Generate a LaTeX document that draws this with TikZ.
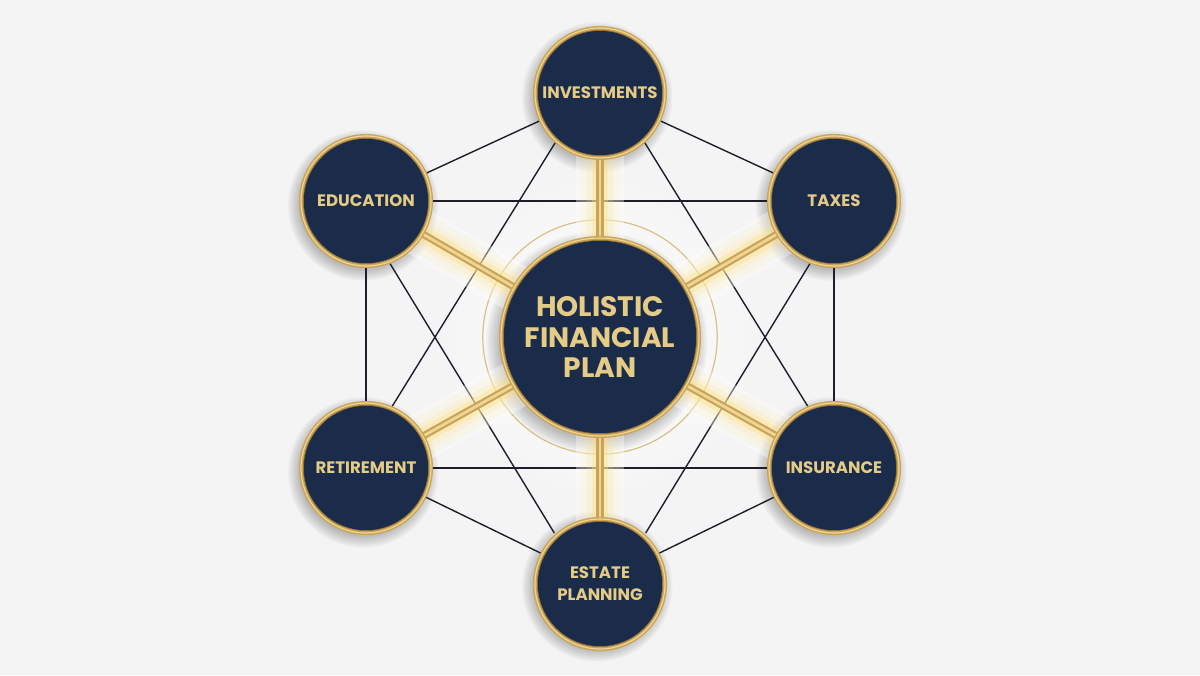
\documentclass[tikz,border=0pt]{standalone}
\usepackage{fontspec}
\newfontfamily\pop{Poppins}
\usetikzlibrary{calc}
\definecolor{navy}{HTML}{1B2B4A}
\definecolor{gold}{HTML}{C9A458}
\definecolor{golddk}{HTML}{8F7035}
\definecolor{goldlt}{HTML}{EED594}
\definecolor{txtgold}{HTML}{E4CB86}
\definecolor{glowc}{HTML}{FFE07A}
\definecolor{bgc}{HTML}{F4F4F4}
\definecolor{linec}{HTML}{1C1F2B}
\definecolor{ringc}{HTML}{D9C085}
\begin{document}
\begin{tikzpicture}[x=0.25mm,y=-0.25mm,
  disc/.style={circle, fill=navy, draw=gold, line width=1.1mm, inner sep=0pt,
    align=center, text=txtgold},
  hub/.style={disc, minimum size=49.4mm, font=\pop\bfseries\fontsize{20}{21.4}\selectfont},
  sat/.style={disc, minimum size=32.4mm, font=\pop\bfseries\fontsize{11.8}{15.5}\selectfont},
  link/.style={draw=linec, line width=0.35mm},
  spokeglow/.style={draw=glowc, line cap=round},
  shade/.style={fill=black, opacity=0.03},
]
\useasboundingbox (0,0) rectangle (1200,675);
\fill[bgc] (0,0) rectangle (1200,675);

\coordinate (pc) at (600,337);
\coordinate (pinv) at (600,93);
\coordinate (ptax) at (834,201);
\coordinate (pins) at (834,468);
\coordinate (pest) at (600,582);
\coordinate (pret) at (366,468);
\coordinate (pedu) at (366,201);

% soft light around the hub
\foreach \k in {0,1,...,5}
  \fill[white, opacity=0.12] (pc) circle[radius=38mm-\k*2mm];

% soft shadows
\foreach \k in {0,1,...,7} {
  \fill[shade] ($(pc)+(-0.8mm,-1.3mm)$) circle[radius=24.5mm+\k*0.45mm];
  \foreach \p in {pinv,ptax,pins,pest,pret,pedu}
    \fill[shade] ($(\p)+(-0.7mm,-1.1mm)$) circle[radius=16mm+\k*0.4mm];
}

% connectors
\draw[link] (pinv) -- (pedu);
\draw[link] (pinv) -- (ptax);
\draw[link] (pedu) -- (ptax);
\draw[link] (pret) -- (pins);
\draw[link] (pedu) -- (pret);
\draw[link] (ptax) -- (pins);
\draw[link] (pret) -- (pest);
\draw[link] (pins) -- (pest);
\draw[link] ($(pinv)+(228:16.75mm)$) -- ($(pret)+(67:16.75mm)$);
\draw[link] ($(pinv)+(312:16.75mm)$) -- ($(pins)+(113:16.75mm)$);
\draw[link] ($(pedu)+(291:16.75mm)$) -- ($(pest)+(133:16.75mm)$);
\draw[link] ($(ptax)+(249:16.75mm)$) -- ($(pest)+(47:16.75mm)$);

% halo ring around hub
\draw[ringc, line width=0.3mm] (pc) circle[radius=29.3mm];

% glowing spokes
\foreach \p in {pinv,ptax,pins,pest,pret,pedu} {
  \draw[white, opacity=0.35, line width=12mm] (pc) -- (\p);
  \draw[spokeglow, opacity=0.10, line width=10mm] (pc) -- (\p);
  \draw[spokeglow, opacity=0.16, line width=6.5mm] (pc) -- (\p);
  \draw[spokeglow, opacity=0.32, line width=4mm] (pc) -- (\p);
  \draw[gold, line width=1.8mm] (pc) -- (\p);
  \draw[goldlt, line width=0.7mm] (pc) -- (\p);
}

\node[hub] (c) at (pc) {HOLISTIC\\FINANCIAL\\PLAN};
\node[sat] (inv) at (pinv) {INVESTMENTS};
\node[sat] (tax) at (ptax) {TAXES};
\node[sat] (ins) at (pins) {INSURANCE};
\node[sat] (est) at ($(pest)+(0,2)$) {ESTATE\\PLANNING};
\node[sat] (ret) at (pret) {RETIREMENT};
\node[sat] (edu) at (pedu) {EDUCATION};

\foreach \n/\r in {c/25.25mm,inv/16.75mm,tax/16.75mm,ins/16.75mm,ret/16.75mm,edu/16.75mm} {
  \draw[golddk, line width=0.18mm] (\n.center) circle[radius=\r-1.1mm];
  \draw[goldlt, line width=0.3mm] (\n.center) circle[radius=\r-0.5mm];
}
\draw[golddk, line width=0.18mm] (est.center) circle[radius=16.75mm-1.1mm];
\draw[goldlt, line width=0.3mm] (est.center) circle[radius=16.75mm-0.5mm];
\end{tikzpicture}
\end{document}
